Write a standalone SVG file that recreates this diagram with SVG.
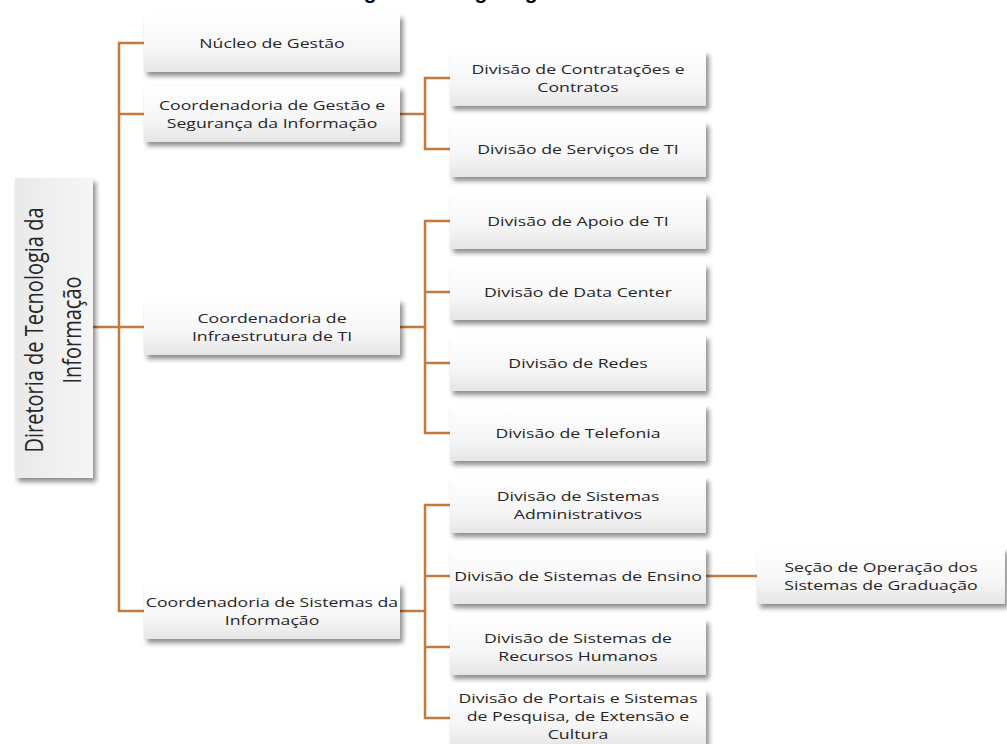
<svg xmlns="http://www.w3.org/2000/svg" width="1007" height="744" viewBox="0 0 1007 744">
<defs>
<linearGradient id="g" x1="0" y1="0" x2="0" y2="1">
<stop offset="0" stop-color="#ffffff"/>
<stop offset="0.6" stop-color="#f6f6f6"/>
<stop offset="1" stop-color="#e6e6e6"/>
</linearGradient>
<linearGradient id="gr" x1="0" y1="0" x2="1" y2="0">
<stop offset="0" stop-color="#e9e9e9"/>
<stop offset="1" stop-color="#f6f6f6"/>
</linearGradient>
<filter id="sh" x="-10%" y="-20%" width="130%" height="160%">
<feGaussianBlur in="SourceAlpha" stdDeviation="2.5"/>
<feOffset dx="3" dy="4"/>
<feComponentTransfer><feFuncA type="linear" slope="0.45"/></feComponentTransfer>
<feMerge><feMergeNode/><feMergeNode in="SourceGraphic"/></feMerge>
</filter>
</defs>
<style>
.box{fill:url(#g);filter:url(#sh);}
.root{fill:url(#gr);filter:url(#sh);}
.t{font-family:"Open Sans","Liberation Sans",sans-serif;font-size:13px;fill:#262626;text-anchor:middle;}
.rt{font-family:"Open Sans","Liberation Sans",sans-serif;font-size:20px;fill:#262626;text-anchor:middle;}
.c{fill:none;stroke:#C47A3D;stroke-width:2.5;}
.title{font-family:"Liberation Sans",Arial,sans-serif;font-size:21px;font-weight:bold;fill:#000;}
</style>
<rect width="1007" height="744" fill="#ffffff"/>
<text class="title" x="345" y="-1">Figura 1 – Organograma da</text>

<g id="connectors">
<path class="c" d="M144 43 H119 V611 H144 M119 114 H144 M93 327 H144"/>
<path class="c" d="M400 114 H425 M450 78 H425 V149 H450"/>
<path class="c" d="M400 327 H425 M450 221 H425 V433 H450 M425 292 H450 M425 363 H450"/>
<path class="c" d="M400 611 H425 M450 505 H425 V718 H450 M425 576 H450 M425 647 H450"/>
<path class="c" d="M706 576 H757"/>
</g>

<g id="root">
<rect class="root" x="15" y="178" width="78" height="300"/>
<text class="rt" transform="translate(62 330) scale(1.3 1) rotate(-90)"><tspan x="0" y="-14.6">Diretoria de Tecnologia da</tspan><tspan x="0" y="14.6">Informação</tspan></text>
</g>

<g id="nucleo">
<rect class="box" x="144" y="14" width="256" height="58"/>
<text class="t" transform="matrix(1.36 0 0 1 272 48)">Núcleo de Gestão</text>
</g>
<g id="coord-gestao">
<rect class="box" x="144" y="86" width="256" height="56"/>
<text class="t" transform="matrix(1.36 0 0 1 272 114)"><tspan x="0" y="-4">Coordenadoria de Gestão e</tspan><tspan x="0" y="14">Segurança da Informação</tspan></text>
</g>
<g id="coord-infra">
<rect class="box" x="144" y="299" width="256" height="56"/>
<text class="t" transform="matrix(1.36 0 0 1 272 327)"><tspan x="0" y="-4">Coordenadoria de</tspan><tspan x="0" y="14">Infraestrutura de TI</tspan></text>
</g>
<g id="coord-sistemas">
<rect class="box" x="144" y="583" width="256" height="56"/>
<text class="t" transform="matrix(1.36 0 0 1 272 611)"><tspan x="0" y="-4">Coordenadoria de Sistemas da</tspan><tspan x="0" y="14">Informação</tspan></text>
</g>

<g id="div-contratacoes">
<rect class="box" x="450" y="51" width="256" height="55"/>
<text class="t" transform="matrix(1.36 0 0 1 578 78)"><tspan x="0" y="-4">Divisão de Contratações e</tspan><tspan x="0" y="14">Contratos</tspan></text>
</g>
<g id="div-servicos">
<rect class="box" x="450" y="122" width="256" height="55"/>
<text class="t" transform="matrix(1.36 0 0 1 578 154)">Divisão de Serviços de TI</text>
</g>
<g id="div-apoio">
<rect class="box" x="450" y="193" width="256" height="56"/>
<text class="t" transform="matrix(1.36 0 0 1 578 226)">Divisão de Apoio de TI</text>
</g>
<g id="div-datacenter">
<rect class="box" x="450" y="264" width="256" height="56"/>
<text class="t" transform="matrix(1.36 0 0 1 578 297)">Divisão de Data Center</text>
</g>
<g id="div-redes">
<rect class="box" x="450" y="335" width="256" height="56"/>
<text class="t" transform="matrix(1.36 0 0 1 578 368)">Divisão de Redes</text>
</g>
<g id="div-telefonia">
<rect class="box" x="450" y="405" width="256" height="56"/>
<text class="t" transform="matrix(1.36 0 0 1 578 438)">Divisão de Telefonia</text>
</g>
<g id="div-admin">
<rect class="box" x="450" y="477" width="256" height="56"/>
<text class="t" transform="matrix(1.36 0 0 1 578 505)"><tspan x="0" y="-4">Divisão de Sistemas</tspan><tspan x="0" y="14">Administrativos</tspan></text>
</g>
<g id="div-ensino">
<rect class="box" x="450" y="548" width="256" height="56"/>
<text class="t" transform="matrix(1.36 0 0 1 578 581)">Divisão de Sistemas de Ensino</text>
</g>
<g id="div-rh">
<rect class="box" x="450" y="619" width="256" height="56"/>
<text class="t" transform="matrix(1.36 0 0 1 578 647)"><tspan x="0" y="-4">Divisão de Sistemas de</tspan><tspan x="0" y="14">Recursos Humanos</tspan></text>
</g>
<g id="div-portais">
<rect class="box" x="450" y="690" width="256" height="56"/>
<text class="t" transform="matrix(1.36 0 0 1 578 716)"><tspan x="0" y="-13">Divisão de Portais e Sistemas</tspan><tspan x="0" y="5">de Pesquisa, de Extensão e</tspan><tspan x="0" y="23">Cultura</tspan></text>
</g>
<g id="secao-graduacao">
<rect class="box" x="757" y="548" width="248" height="56"/>
<text class="t" transform="matrix(1.36 0 0 1 881 576)"><tspan x="0" y="-4">Seção de Operação dos</tspan><tspan x="0" y="14">Sistemas de Graduação</tspan></text>
</g>
</svg>
